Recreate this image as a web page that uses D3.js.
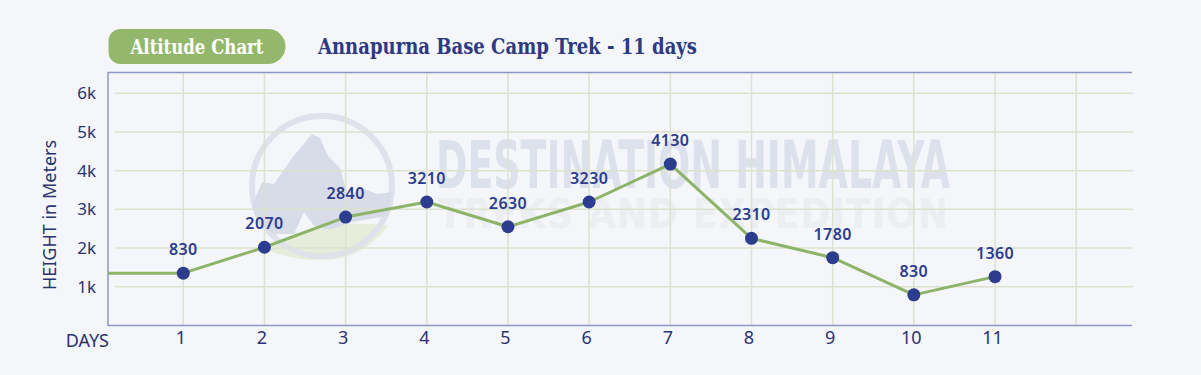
<!DOCTYPE html>
<html>
<head>
<meta charset="utf-8">
<script src="https://cdn.jsdelivr.net/npm/d3@7/dist/d3.min.js"></script>
<style>
  html, body { margin: 0; padding: 0; background: #f4f6fa; }
  svg { display: block; }
</style>
</head>
<body>
<svg id="chart" width="1201" height="375"></svg>
<script>
// ---- data ----
const days = [1, 2, 3, 4, 5, 6, 7, 8, 9, 10, 11];
const altitudes = [1350, 2020, 2800, 3190, 2550, 3190, 4170, 2250, 1750, 790, 1260];
const pointLabels = ["830", "2070", "2840", "3210", "2630", "3230", "4130", "2310", "1780", "830", "1360"];
const yTicks = [1000, 2000, 3000, 4000, 5000, 6000];
const yTickLabels = ["1k", "2k", "3k", "4k", "5k", "6k"];
const xGridDays = [1, 2, 3, 4, 5, 6, 7, 8, 9, 10, 11, 12];
const badgeText = "Altitude Chart";
const titleText = "Annapurna Base Camp Trek - 11 days";
const yAxisTitle = "HEIGHT in Meters";
const xAxisTitle = "DAYS";

// ---- layout ----
const svg = d3.select("#chart");
const frame = { left: 108, right: 1132, top: 72.5, bottom: 325.5 };
const x = d3.scaleLinear().domain([0, 12]).range([102.1, 1076.2]);
const y = d3.scaleLinear().domain([0, 6000]).range([325.4, 93.3]);

const navy = "#2b336e";
const pointBlue = "#2c3c8e";
const green = "#8db468";
const gridCol = "#dde2cf";
const sans = "'Noto Sans', 'Open Sans', sans-serif";

svg.append("rect").attr("width", 1201).attr("height", 375).attr("fill", "#f4f6fa");

// ---- watermark ----
const wm = svg.append("g").attr("class", "watermark");
const cx = 322, cy = 186, r = 70;
wm.append("path")
  .attr("d", `M${cx-58},${cy+62} Q${cx},${cy+30} ${cx+66},${cy+40} Q${cx+40},${cy+74} ${cx},${cy+74} Q${cx-35},${cy+74} ${cx-58},${cy+62} Z`)
  .attr("fill", "#e7eddb");
wm.append("circle").attr("cx", cx).attr("cy", cy).attr("r", r)
  .attr("fill", "none").attr("stroke", "#dfe2eb").attr("stroke-width", 6);
wm.append("path")
  .attr("d", `M${cx-70},${cy+20} L${cx-60},${cy-4} L${cx-48},${cy-2} L${cx-30},${cy-28} L${cx-10},${cy-52} L${cx-2},${cy-48} L${cx+6},${cy-30} L${cx+18},${cy-18} L${cx+26},${cy+10} L${cx+40},${cy+2} L${cx+55},${cy+8} L${cx+70},${cy+6} L${cx+66},${cy+30} L${cx+30},${cy+36} L${cx+8},${cy+44} L${cx-8},${cy+40} L${cx-18},${cy+26} L${cx-28},${cy+48} L${cx-48},${cy+48} L${cx-62},${cy+40} Z`)
  .attr("fill", "#d8dce9");
wm.append("text").attr("x", 436).attr("y", 188)
  .attr("textLength", 514).attr("lengthAdjust", "spacingAndGlyphs")
  .style("font-family", "'DejaVu Sans Condensed', 'DejaVu Sans', sans-serif")
  .style("font-weight", "bold").style("font-size", "66px")
  .attr("fill", "#dde1ec").text("DESTINATION HIMALAYA");
wm.append("text").attr("x", 438).attr("y", 228)
  .attr("textLength", 510).attr("lengthAdjust", "spacing")
  .style("font-family", "'DejaVu Sans Condensed', 'DejaVu Sans', sans-serif")
  .style("font-weight", "bold").style("font-size", "40px")
  .attr("fill", "#eceef1").text("TREKS AND EXPEDITION");

// ---- grid ----
const grid = svg.append("g");
grid.selectAll("line.v").data(xGridDays).join("line").attr("class", "v")
  .attr("x1", d => x(d)).attr("x2", d => x(d))
  .attr("y1", frame.top).attr("y2", frame.bottom)
  .attr("stroke", gridCol).attr("stroke-width", 1.5);
grid.selectAll("line.h").data(yTicks).join("line").attr("class", "h")
  .attr("x1", 115).attr("x2", 1133)
  .attr("y1", d => y(d)).attr("y2", d => y(d))
  .attr("stroke", gridCol).attr("stroke-width", 1.5);

// ---- frame ----
const frameCol = "#8e97c4";
svg.append("path")
  .attr("d", `M${frame.right},${frame.top} H${frame.left} V${frame.bottom} H${frame.right}`)
  .attr("fill", "none").attr("stroke", frameCol).attr("stroke-width", 1.5);

// ---- y axis ----
const yAxis = d3.axisLeft(y).tickValues(yTicks)
  .tickFormat((d, i) => yTickLabels[i]).tickSize(0).tickPadding(0);
const yg = svg.append("g").attr("transform", "translate(96,0)").call(yAxis);
yg.select(".domain").remove();
yg.selectAll("text")
  .style("font-family", sans).style("font-size", "17px").attr("fill", navy);

// ---- x axis ----
const xAxis = d3.axisBottom(x).tickValues(days).tickFormat(d3.format("d")).tickSize(0).tickPadding(0);
const xg = svg.append("g").attr("transform", "translate(-3,331)").call(xAxis);
xg.select(".domain").remove();
xg.selectAll("text")
  .style("font-family", sans).style("font-size", "18px").attr("fill", navy);

svg.append("text").attr("x", 109).attr("y", 347).attr("text-anchor", "end")
  .style("font-family", sans).style("font-size", "18px").attr("fill", navy).text(xAxisTitle);

svg.append("text").attr("transform", "translate(56,215) rotate(-90)")
  .attr("text-anchor", "middle")
  .style("font-family", sans).style("font-size", "18px").attr("fill", navy).text(yAxisTitle);

// ---- line ----
svg.append("clipPath").attr("id", "plotclip").append("rect")
  .attr("x", frame.left).attr("y", frame.top)
  .attr("width", frame.right - frame.left).attr("height", frame.bottom - frame.top);

const lineData = [{ d: 0, v: altitudes[0] }].concat(days.map((d, i) => ({ d, v: altitudes[i] })));
const line = d3.line().x(p => x(p.d)).y(p => y(p.v));
svg.append("path").datum(lineData)
  .attr("clip-path", "url(#plotclip)")
  .attr("d", line).attr("fill", "none")
  .attr("stroke", green).attr("stroke-width", 3).attr("stroke-linejoin", "round");

// ---- points ----
svg.selectAll("circle.pt").data(days).join("circle").attr("class", "pt")
  .attr("cx", d => x(d)).attr("cy", (d, i) => y(altitudes[i]))
  .attr("r", 6.5).attr("fill", pointBlue);

svg.selectAll("text.lbl").data(days).join("text").attr("class", "lbl")
  .attr("x", d => x(d)).attr("y", (d, i) => y(altitudes[i]) - 18)
  .attr("text-anchor", "middle")
  .style("font-family", sans).style("font-size", "16px").style("font-weight", "600")
  .style("letter-spacing", "0.4px")
  .attr("fill", pointBlue).text((d, i) => pointLabels[i]);

// ---- header ----
const bx = 108.5, by = 29, bw = 177, bh = 35, br = 17.5, bl = 12;
svg.append("path")
  .attr("d", `M${bx+bl},${by} H${bx+bw-br} A${br},${br} 0 0 1 ${bx+bw-br},${by+bh} H${bx+bl} A${bl},${bl} 0 0 1 ${bx},${by+bh-bl} V${by+bl} A${bl},${bl} 0 0 1 ${bx+bl},${by} Z`)
  .attr("fill", "#94b86b");
svg.append("text").attr("x", 197).attr("y", 53.5).attr("text-anchor", "middle")
  .attr("textLength", 133).attr("lengthAdjust", "spacingAndGlyphs")
  .style("font-family", "'DejaVu Serif Condensed', 'DejaVu Serif', serif")
  .style("font-weight", "bold").style("font-size", "19.5px")
  .attr("fill", "#ffffff").text(badgeText);

svg.append("text").attr("x", 318).attr("y", 54)
  .attr("textLength", 379).attr("lengthAdjust", "spacingAndGlyphs")
  .style("font-family", "'DejaVu Serif Condensed', 'DejaVu Serif', serif")
  .style("font-weight", "bold").style("font-size", "21.5px")
  .attr("fill", "#2e3a80").text(titleText);
</script>
</body>
</html>
